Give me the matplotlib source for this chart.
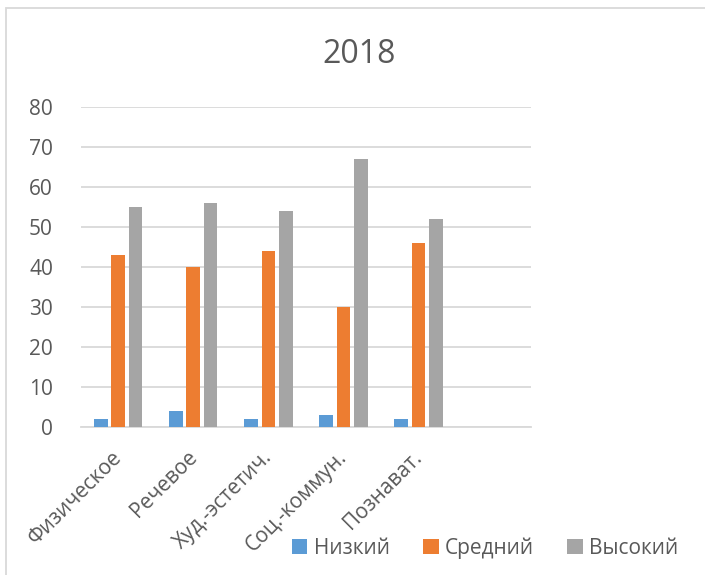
import numpy as np
import matplotlib.pyplot as plt
from matplotlib.patches import Rectangle
from matplotlib.transforms import ScaledTranslation

plt.rcParams['font.family'] = ['Open Sans', 'DejaVu Sans']

# dati del grafico
categories = ['Физическое', 'Речевое', 'Худ.-эстетич.', 'Соц.-коммун.', 'Познават.', '']
series_names = ['Низкий', 'Средний', 'Высокий']
low = [2, 4, 2, 3, 2, 0]
mid = [43, 40, 44, 30, 46, 0]
high = [55, 56, 54, 67, 52, 0]
colors = ['#5B9BD5', '#ED7D31', '#A5A5A5']
yticks = [0, 10, 20, 30, 40, 50, 60, 70, 80]

text_col = '#595959'
grid_col = '#D9D9D9'

fig = plt.figure(figsize=(7.05, 5.75), dpi=100)
ax = fig.add_axes([0.1145, 0.2569, 0.639, 0.5575])

# cornice del grafico (tagliata a destra e in basso come nell'originale)
fig.patches.append(Rectangle((6 / 705, -0.1), 1.2, 1 - 8 / 575 + 0.1,
                             transform=fig.transFigure, fill=False,
                             edgecolor=grid_col, linewidth=1.3))

x = np.arange(len(categories))
width = 0.183
step = 0.23
for i, (vals, name) in enumerate(zip([low, mid, high], series_names)):
    ax.bar(x + (i - 1) * step, vals, width, color=colors[i], label=name, zorder=3)

ax.set_xlim(-0.5, len(categories) - 0.5)
ax.set_ylim(0, 80)
ax.set_yticks(yticks)
ax.grid(axis='y', color=grid_col, linewidth=1.3, zorder=0)
for s in ['top', 'right', 'left']:
    ax.spines[s].set_visible(False)
ax.spines['bottom'].set_color(grid_col)
ax.spines['bottom'].set_linewidth(1.3)
ax.tick_params(length=0, labelsize=15, labelcolor=text_col)
ax.tick_params(axis='y', pad=20)
ax.set_xticks(x)
ax.set_xticklabels(categories, rotation=45, ha='right', rotation_mode='anchor')
ax.tick_params(axis='x', pad=14)
shift = ScaledTranslation(-5 / 72, 0, fig.dpi_scale_trans)
for lab in ax.get_xticklabels():
    lab.set_transform(lab.get_transform() + shift)

fig.text(0.51, 0.905, '2018', ha='center', va='center', fontsize=23, color=text_col)

leg = fig.legend(loc='center', bbox_to_anchor=(0.688, 1 - 548 / 575), ncol=3,
                 frameon=False, fontsize=15, handlelength=0.75, handleheight=0.75,
                 handletextpad=0.3, columnspacing=1.6)
for t in leg.get_texts():
    t.set_color(text_col)

fig.savefig('out.png', dpi=100)
